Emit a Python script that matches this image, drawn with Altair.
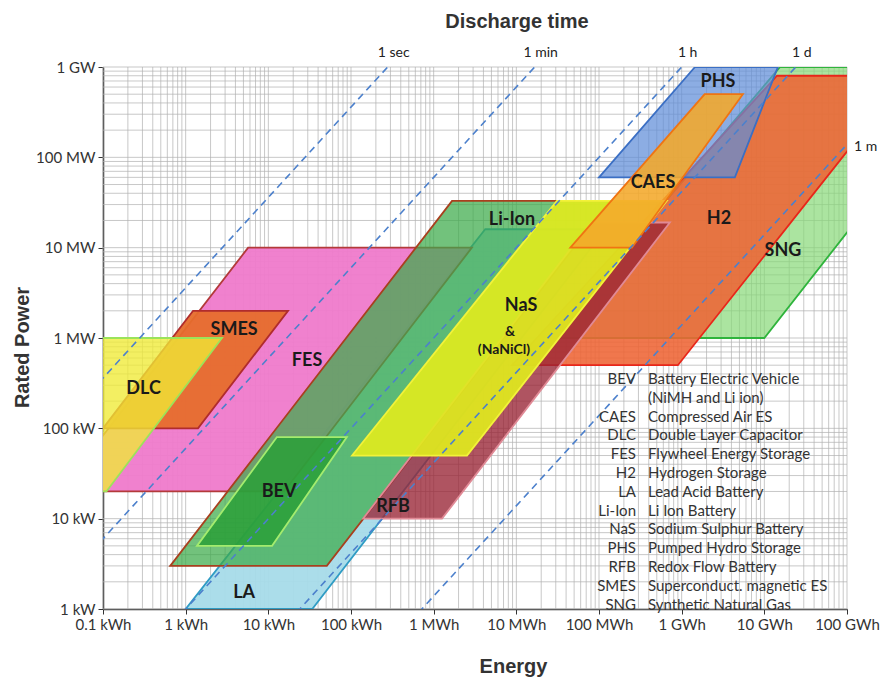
import json
import altair as alt
import pandas as pd

# Axis ticks: energy in kWh, rated power in kW
energy_ticks = [0.1, 1, 10, 100, 1e3, 1e4, 1e5, 1e6, 1e7, 1e8]
energy_labels = ["0.1 kWh", "1 kWh", "10 kWh", "100 kWh", "1 MWh", "10 MWh",
                 "100 MWh", "1 GWh", "10 GWh", "100 GWh"]
power_ticks = [1, 10, 100, 1e3, 1e4, 1e5, 1e6]
power_labels = ["1 kW", "10 kW", "100 kW", "1 MW", "10 MW", "100 MW", "1 GW"]

# Storage technologies (drawing order, back to front).
# Each region is bounded by a lower and an upper power level (kW); the
# energy extent (kWh) of its lower and upper edge gives the slanted sides.
tech = ["SNG", "H2", "LA", "FES", "SMES", "DLC", "Li-Ion", "BEV", "RFB",
        "NaS", "PHS", "CAES"]
p_low = [1000, 500, 1, 20, 100, 20, 3, 5, 10, 50, 60000, 10000]
p_high = [1e6, 8e5, 16000, 10000, 2000, 1000, 33000, 80, 19000, 33000, 1e6, 5e5]
e_low_left = [2.5e4, 8850, 1.0, 0.03, 0.1, 0.002, 0.65, 1.37, 140, 103, 1e5, 4.5e4]
e_low_right = [1e7, 9e5, 34, 15.5, 1.41, 0.11, 51, 11.1, 1260, 2530, 4.4e6, 2.5e5]
e_high_left = [1.55e7, 1.42e7, 4200, 5.7, 1.23, 0.05, 1670, 12.7, 8e4, 3.1e4, 1.45e6, 1.9e6]
e_high_right = [3.7e9, 5.3e8, 1.2e5, 2900, 17.3, 2.75, 1.36e5, 89, 7.2e5, 6.6e5, 1.46e7, 5.5e6]

# Discharge-time reference lines (hours)
time_names = ["1 sec", "1 min", "1 h", "1 d", "1 m"]
time_hours = [1 / 3600, 1 / 60, 1, 24, 720]

# Region tags (energy kWh, power kW)
tag_text = ["DLC", "SMES", "FES", "BEV", "LA", "RFB", "Li-Ion", "NaS", "&",
            "(NaNiCl)", "CAES", "PHS", "H2", "SNG"]
tag_energy = [0.31, 3.85, 29.4, 13.5, 5.1, 322, 8850, 11400, 8380, 7080,
              4.5e5, 2.75e6, 2.83e6, 1.68e7]
tag_power = [273, 1227, 556, 19.7, 1.5, 13.5, 20200, 2260, 1166, 737,
             52000, 6.8e5, 20800, 9200]

# Abbreviation list (the second description line has no abbreviation)
legend_abbr = ["BEV", "", "CAES", "DLC", "FES", "H2", "LA", "Li-Ion",
               "NaS", "PHS", "RFB", "SMES", "SNG"]
legend_desc = ["Battery  Electric Vehicle", "(NiMH and Li ion)",
               "Compressed Air ES", "Double Layer Capacitor",
               "Flywheel  Energy Storage", "Hydrogen Storage",
               "Lead Acid Battery", "Li Ion Battery", "Sodium Sulphur Battery",
               "Pumped Hydro Storage", "Redox Flow  Battery",
               "Superconduct. magnetic ES", "Synthetic Natural Gas"]

# ---------------------------------------------------------------- styling
style = {
    "LA": ("#a6dbe9", 0.95, "#2f9cc4"),
    "FES": ("#ef7acb", 0.95, "#b33a3a"),
    "SMES": ("#e66d2c", 0.95, "#b02c2c"),
    "DLC": ("#efeb36", 0.78, "#9be35a"),
    "Li-Ion": ("#3caa4a", 0.72, "#a8401e"),
    "BEV": ("#2a9f38", 0.85, "#a4ec6e"),
    "RFB": ("#982434", 0.78, "#e08a96"),
    "NaS": ("#e0ea1e", 0.92, "#f2f23a"),
    "SNG": ("#88d878", 0.70, "#2fb43c"),
    "H2": ("#ee6434", 0.88, "#e8261a"),
    "PHS": ("#5f8ed8", 0.72, "#3b6fc4"),
    "CAES": ("#f4a82a", 0.88, "#f07412"),
}
tag_size = [18, 18, 18, 18, 18, 18, 18, 18, 14, 14, 18, 18, 18, 18]
LINE_H = 18.8          # row pitch of the abbreviation list
LIST_TOP = 305         # top of the list, relative to the plot area
ABBR_RIGHT, DESC_LEFT = 533, 545

W, H = 744, 542
xs = alt.Scale(type="log", domain=[0.1, 1e8], nice=False)
ys = alt.Scale(type="log", domain=[1, 1e6], nice=False)

x_expr = json.dumps(energy_labels) + "[round(log(datum.value)/LN10)+1]"
y_expr = json.dumps(power_labels) + "[round(log(datum.value)/LN10)]"

x_axis = alt.Axis(
    values=energy_ticks, labelExpr=x_expr, grid=False, tickSize=5,
    tickColor="#333333", domainColor="#333333", domainWidth=1.5,
    labelFont="Lato", labelFontSize=15, labelColor="#333333", labelPadding=3,
    labelFlush=False, labelOverlap=False,
    title="Energy", titleFont="Liberation Sans", titleFontSize=20,
    titleFontWeight="bold", titleColor="#333333", titleX=410, titleY=57,
    titleAlign="center", titleBaseline="middle",
)
y_axis = alt.Axis(
    values=power_ticks, labelExpr=y_expr, grid=False, tickSize=5,
    tickColor="#333333", domainColor="#333333", domainWidth=1.5,
    labelFont="Lato", labelFontSize=15, labelColor="#333333", labelPadding=3,
    labelOverlap=False,
    title="Rated Power", titleFont="Liberation Sans", titleFontSize=20,
    titleFontWeight="bold", titleColor="#333333", titleAngle=270,
    titleX=-81, titleY=280, titleAlign="center", titleBaseline="middle",
)


def X(field):
    return alt.X(field, scale=xs, axis=x_axis, stack=None)


def Y(field):
    return alt.Y(field, scale=ys, axis=y_axis)


# log grid (1..9 per decade)
grid_x = [k * 10.0 ** n for n in range(-1, 8) for k in range(1, 10)] + [1e8]
grid_y = [k * 10.0 ** n for n in range(0, 6) for k in range(1, 10)] + [1e6]
vgrid = alt.Chart(pd.DataFrame({"E": grid_x})).mark_rule(
    color="#b0b0b0", strokeWidth=0.7).encode(x=X("E:Q"))
hgrid = alt.Chart(pd.DataFrame({"P": grid_y})).mark_rule(
    color="#b0b0b0", strokeWidth=0.7).encode(y=Y("P:Q"))

layers = [vgrid, hgrid]

# technology regions
for i, name in enumerate(tech):
    fill, op, stroke = style[name]
    df = pd.DataFrame({
        "P": [p_low[i], p_high[i]],
        "E": [e_low_left[i], e_high_left[i]],
        "E2": [e_low_right[i], e_high_right[i]],
    })
    layers.append(
        alt.Chart(df).mark_area(
            orient="horizontal", clip=True, fill=fill, fillOpacity=op,
            stroke=stroke, strokeWidth=1.8, strokeOpacity=1,
        ).encode(y=Y("P:Q"), x=X("E:Q"), x2="E2:Q")
    )

# discharge-time lines E = P * t
line_rows = []
top_rows, side_rows = [], []
for name, t in zip(time_names, time_hours):
    for p in (1e-2, 1e8):
        line_rows.append({"line": name, "P": p, "E": p * t})
    if 1e6 * t <= 1e8:
        top_rows.append({"line": name, "E": 1e6 * t, "P": 1e6})
    else:
        side_rows.append({"line": name, "E": 1e8, "P": 1e8 / t})

layers.append(
    alt.Chart(pd.DataFrame(line_rows)).mark_line(
        clip=True, color="#4c80cc", strokeDash=[7, 5], strokeWidth=1.6,
    ).encode(x=X("E:Q"), y=Y("P:Q"), detail="line:N")
)
layers.append(
    alt.Chart(pd.DataFrame(top_rows)).mark_text(
        font="Lato", fontSize=14, color="#222222", dx=6, dy=-14, align="center",
    ).encode(x=X("E:Q"), y=Y("P:Q"), text="line:N")
)
layers.append(
    alt.Chart(pd.DataFrame(side_rows)).mark_text(
        font="Lato", fontSize=14, color="#222222", dx=7, dy=3, align="left",
    ).encode(x=X("E:Q"), y=Y("P:Q"), text="line:N")
)

# region tags
tags = pd.DataFrame({"tag": tag_text, "E": tag_energy, "P": tag_power, "fs": tag_size})
layers.append(
    alt.Chart(tags).mark_text(
        font="Lato", fontWeight="bold", color="#1a1a1a", align="center",
        baseline="middle",
    ).encode(x=X("E:Q"), y=Y("P:Q"), text="tag:N",
             size=alt.Size("fs:Q", scale=None, legend=None))
)


def text_block(lines, start_row, x, align):
    """One multi-line text mark whose first line sits on row `start_row`."""
    df = pd.DataFrame({"t": ["\n".join(lines)]})
    return alt.Chart(df).mark_text(
        font="Lato", fontSize=15, color="#333333", align=align,
        baseline="top", lineBreak="\n", lineHeight=LINE_H,
    ).encode(x=alt.value(x), y=alt.value(LIST_TOP + start_row * LINE_H),
             text="t:N")


# abbreviation column: consecutive non-empty entries form one block
block, start = [], 0
for row, abbr in enumerate(legend_abbr + [""]):
    if abbr:
        if not block:
            start = row
        block.append(abbr)
    elif block:
        layers.append(text_block(block, start, ABBR_RIGHT, "right"))
        block = []
layers.append(text_block(legend_desc, 0, DESC_LEFT, "left"))

# heading above the plot
heading = pd.DataFrame({"t": ["Discharge time"]})
layers.append(
    alt.Chart(heading).mark_text(
        font="Liberation Sans", fontSize=20, fontWeight="bold",
        color="#333333", align="center", baseline="middle",
    ).encode(x=alt.value(414), y=alt.value(-45), text="t:N")
)

chart = alt.layer(*layers).properties(
    width=W, height=H,
    padding={"left": 103, "top": 67, "right": 38, "bottom": 68},
    autosize=alt.AutoSizeParams(type="none"),
    background="white",
).configure_view(stroke=None)

chart.save("out.html", embed_options={"renderer": "svg", "actions": False})
